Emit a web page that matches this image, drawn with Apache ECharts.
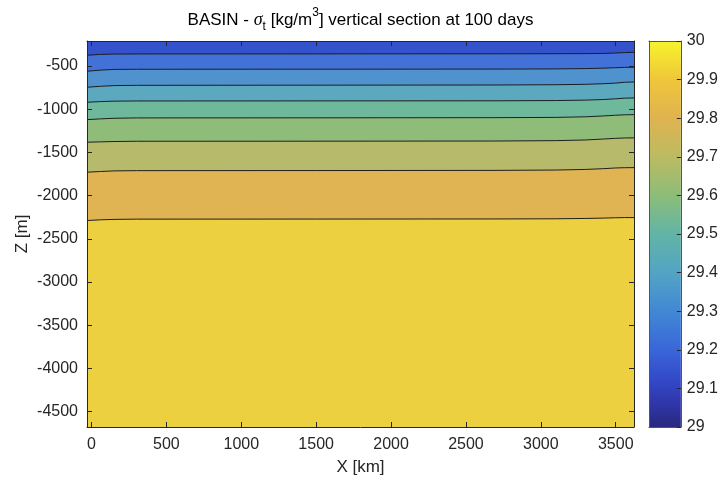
<!DOCTYPE html>
<html>
<head>
<meta charset="utf-8">
<script src="https://cdn.jsdelivr.net/npm/echarts@6/dist/echarts.min.js"></script>
<style>
  html, body { margin: 0; padding: 0; background: #ffffff; }
  #chart { width: 721px; height: 484px; }
</style>
</head>
<body>
<div id="chart"></div>
<script>
// Horizontal positions (km) where each isopycnal depth is sampled
const xKm = [-30, 60, 150, 300, 1500, 2700, 3100, 3300, 3420, 3500, 3560, 3622];

// Depth (m) of each sigma_t contour along the section
const depth291 = [-376, -366, -362, -361, -360, -359, -358, -357, -355, -350, -345, -342];
const depth292 = [-561, -548, -540, -538, -537, -536, -534, -530, -525, -520, -516, -515];
const depth293 = [-746, -735, -727, -724, -722, -720, -717, -712, -705, -698, -688, -685];
const depth294 = [-920, -912, -907, -905, -904, -903, -900, -895, -888, -880, -872, -870];
const depth295 = [-1121, -1112, -1105, -1101, -1100, -1098, -1095, -1088, -1078, -1070, -1065, -1063];
const depth296 = [-1382, -1378, -1374, -1371, -1370, -1368, -1364, -1356, -1345, -1337, -1333, -1332];
const depth297 = [-1729, -1721, -1714, -1711, -1710, -1708, -1704, -1697, -1688, -1680, -1677, -1676];
const depth298 = [-2288, -2280, -2275, -2272, -2271, -2270, -2268, -2264, -2260, -2256, -2254, -2254];

const contourLevels = [29.1, 29.2, 29.3, 29.4, 29.5, 29.6, 29.7, 29.8];
const contourDepths = [depth291, depth292, depth293, depth294, depth295, depth296, depth297, depth298];

// Axis ranges and tick values
const xRange = [-30, 3622];
const zRange = [-4677, -211];
const xTicks = [0, 500, 1000, 1500, 2000, 2500, 3000, 3500];
const zTicks = [-4500, -4000, -3500, -3000, -2500, -2000, -1500, -1000, -500];
const sigmaRange = [29, 30];
const sigmaTicks = [29, 29.1, 29.2, 29.3, 29.4, 29.5, 29.6, 29.7, 29.8, 29.9, 30];

// Fill colour of each layer, from the lightest water (top) to the densest (bottom)
const layerColors = ['#3352cc', '#4272d8', '#5092ce', '#5ca8be', '#6eb89c',
                     '#90bc7a', '#b6ba6a', '#e0b452', '#ecd040'];

// Colour scale of the colour bar (bottom = 29, top = 30)
const scaleStops = [
  [0.00, '#29297e'], [0.06, '#2f36a8'], [0.12, '#3348c8'], [0.20, '#3a66d8'],
  [0.30, '#4188d4'], [0.40, '#52a4c4'], [0.50, '#62b4a6'], [0.60, '#8cbd78'],
  [0.70, '#bcbb62'], [0.80, '#dfb34f'], [0.90, '#efc63a'], [1.00, '#f8f32c']
];

const FONT = 'Liberation Sans, Arial, Helvetica, sans-serif';
const AX = '#262626';

const chart = echarts.init(document.getElementById('chart'), null, { renderer: 'canvas' });

function pairs(depths) {
  return xKm.map((x, i) => [x, depths[i]]);
}

const plain = v => String(Number(Number(v).toFixed(1)));

const series = [];

// Filled layers: each one covers everything below its upper contour
contourDepths.forEach((d, i) => {
  series.push({
    name: 'fill ' + contourLevels[i],
    type: 'line',
    xAxisIndex: 0, yAxisIndex: 0,
    data: pairs(d),
    showSymbol: false,
    silent: true,
    lineStyle: { width: 0 },
    areaStyle: { origin: 'start', color: layerColors[i + 1], opacity: 1 },
    z: 2 + i * 0.01
  });
});

// Contour lines
contourDepths.forEach((d, i) => {
  series.push({
    name: 'sigma ' + contourLevels[i],
    type: 'line',
    xAxisIndex: 0, yAxisIndex: 0,
    data: pairs(d),
    showSymbol: false,
    silent: true,
    lineStyle: { color: '#1e1e1e', width: 1 },
    z: 4
  });
});

// Colour bar
series.push({
  name: 'colorbar',
  type: 'custom',
  xAxisIndex: 2, yAxisIndex: 2,
  data: [[0, sigmaRange[1]]],
  silent: true,
  renderItem: function (params, api) {
    const lo = api.coord([0, sigmaRange[0]]);
    const hi = api.coord([0, sigmaRange[1]]);
    const w = api.size([1, 0])[0];
    return {
      type: 'rect',
      shape: { x: lo[0] - w / 2, y: hi[1], width: w, height: lo[1] - hi[1] },
      style: {
        fill: new echarts.graphic.LinearGradient(0, 1, 0, 0,
          scaleStops.map(s => ({ offset: s[0], color: s[1] })))
      }
    };
  },
  z: 2
});

const tickLabel = { color: AX, fontSize: 16, fontFamily: FONT, formatter: plain };
const nameStyle = { color: AX, fontSize: 17, fontFamily: FONT };
const line = c => ({ show: true, onZero: false, lineStyle: { color: c, width: 1 } });

const option = {
  animation: false,
  backgroundColor: '#ffffff',
  title: {
    left: 'center',
    top: 2,
    text: '{n|BASIN - }{g|σ}{sub|t}{n| [kg/m}{sup|3}{n|] vertical section at 100 days}',
    textStyle: {
      fontWeight: 'normal',
      rich: {
        n: { fontSize: 17, fontWeight: 'normal', fontFamily: FONT, color: '#000', lineHeight: 26 },
        g: { fontSize: 18, fontWeight: 'normal', fontFamily: 'Liberation Serif, DejaVu Serif, serif', fontStyle: 'italic', color: '#000', lineHeight: 26 },
        sub: { fontSize: 12, fontWeight: 'normal', fontFamily: FONT, color: '#000', lineHeight: 13, verticalAlign: 'bottom' },
        sup: { fontSize: 12, fontWeight: 'normal', fontFamily: FONT, color: '#000', lineHeight: 13, verticalAlign: 'top' }
      }
    }
  },
  grid: [
    { left: 87, right: 87, top: 41, bottom: 57, show: true, backgroundColor: layerColors[0], borderWidth: 0 },
    { left: 649, width: 33, top: 41, bottom: 57, show: false }
  ],
  xAxis: [
    {
      gridIndex: 0, type: 'value', position: 'bottom',
      min: xRange[0], max: xRange[1], z: 10,
      axisLine: line(AX),
      axisTick: { show: true, inside: true, length: 5, customValues: xTicks, lineStyle: { color: AX } },
      axisLabel: Object.assign({ customValues: xTicks, margin: 10 }, tickLabel),
      splitLine: { show: false },
      name: 'X [km]', nameLocation: 'middle', nameGap: 32, nameMoveOverlap: false,
      nameTextStyle: nameStyle
    },
    {
      gridIndex: 0, type: 'value', position: 'top',
      min: xRange[0], max: xRange[1], z: 10,
      axisLine: line(AX),
      axisTick: { show: true, inside: true, length: 5, customValues: xTicks, lineStyle: { color: AX } },
      axisLabel: { show: false },
      splitLine: { show: false }
    },
    {
      gridIndex: 1, type: 'category', data: ['σt'], position: 'bottom', z: 10,
      axisLine: line('#555'),
      axisTick: { show: false }, axisLabel: { show: false }, splitLine: { show: false }
    },
    {
      gridIndex: 1, type: 'category', data: ['σt'], position: 'top', z: 10,
      axisLine: line('#555'),
      axisTick: { show: false }, axisLabel: { show: false }, splitLine: { show: false }
    }
  ],
  yAxis: [
    {
      gridIndex: 0, type: 'value', position: 'left',
      min: zRange[0], max: zRange[1], z: 10,
      axisLine: line(AX),
      axisTick: { show: true, inside: true, length: 5, customValues: zTicks, lineStyle: { color: AX } },
      axisLabel: Object.assign({ customValues: zTicks, margin: 9 }, tickLabel),
      splitLine: { show: false },
      name: 'Z [m]', nameLocation: 'middle', nameGap: 56, nameRotate: 90, nameMoveOverlap: false,
      nameTextStyle: nameStyle
    },
    {
      gridIndex: 0, type: 'value', position: 'right',
      min: zRange[0], max: zRange[1], z: 10,
      axisLine: line(AX),
      axisTick: { show: true, inside: true, length: 5, customValues: zTicks, lineStyle: { color: AX } },
      axisLabel: { show: false },
      splitLine: { show: false }
    },
    {
      gridIndex: 1, type: 'value', position: 'right',
      min: sigmaRange[0], max: sigmaRange[1], z: 10,
      axisLine: line('#555'),
      axisTick: { show: true, inside: true, length: 4, customValues: sigmaTicks, lineStyle: { color: AX } },
      axisLabel: Object.assign({ customValues: sigmaTicks, margin: 6 }, tickLabel),
      splitLine: { show: false }
    },
    {
      gridIndex: 1, type: 'value', position: 'left',
      min: sigmaRange[0], max: sigmaRange[1], z: 10,
      axisLine: line('#555'),
      axisTick: { show: false }, axisLabel: { show: false }, splitLine: { show: false }
    }
  ],
  series: series
};

chart.setOption(option);
</script>
</body>
</html>
